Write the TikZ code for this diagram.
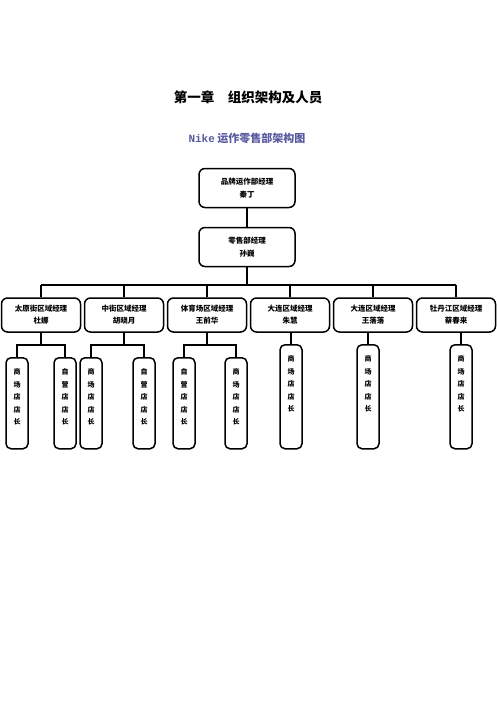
\documentclass[tikz,border=0pt]{standalone}
\usepackage{fontspec}
\setmainfont{Noto Sans CJK SC}
\newfontfamily\nikefont{Liberation Mono}
\usetikzlibrary{positioning}
\definecolor{subblue}{RGB}{88,90,160}
\tikzset{
  mgrbox/.style={draw,line width=1.5pt,rounded corners=6pt,minimum width=96pt,minimum height=39pt,align=center,font=\fontsize{7.5}{12.5}\selectfont\bfseries},
  areabox/.style={draw,line width=1.5pt,rounded corners=6pt,minimum width=79pt,minimum height=34pt,align=center,font=\fontsize{7.5}{12}\selectfont\bfseries},
  storebox/.style={draw,line width=1.5pt,rounded corners=5pt,minimum width=22pt,anchor=north},
  storetext/.style={anchor=north,align=center,font=\fontsize{7}{12.5}\selectfont\bfseries},
  link/.style={line width=1.5pt}
}

\begin{document}
\begin{tikzpicture}[x=1pt,y=-1pt]
  \useasboundingbox (0,0) rectangle (496,702);

  \node[font=\fontsize{13.5}{16}\selectfont\bfseries] (title) at (248,97) {第一章\quad 组织架构及人员};
  \node[font=\fontsize{11}{13}\selectfont\bfseries,text=subblue] (subtitle) at (247,138) {{\nikefont Nike}\ 运作零售部架构图};

  \node[mgrbox] (brand) at (247,188) {品牌运作部经理\\秦丁};
  \node[mgrbox] (retail) at (247,247) {零售部经理\\孙巍};
  \draw[link] (brand) -- (retail);

  \node[areabox] (r1) at (41,315) {太原街区域经理\\杜娜};
  \node[areabox] (r2) at (124,315) {中街区域经理\\胡晓月};
  \node[areabox] (r3) at (207,315) {体育场区域经理\\王前华};
  \node[areabox] (r4) at (290,315) {大连区域经理\\朱慧};
  \node[areabox] (r5) at (373,315) {大连区域经理\\王落落};
  \node[areabox] (r6) at (456,315) {牡丹江区域经理\\蔡春来};

  \coordinate (busL) at (41,285);
  \coordinate (busR) at (456,285);
  \draw[link] (retail.south) -- (retail.south |- busL);
  \draw[link] (busL) -- (busR);
  \draw[link] (r1.north) -- (r1.north |- busL);
  \draw[link] (r2.north) -- (r2.north |- busL);
  \draw[link] (r3.north) -- (r3.north |- busL);
  \draw[link] (r4.north) -- (r4.north |- busL);
  \draw[link] (r5.north) -- (r5.north |- busL);
  \draw[link] (r6.north) -- (r6.north |- busL);

  \node[storebox,minimum height=91pt,label={[storetext,yshift=-8pt]north:商\\场\\店\\店\\长}] (s1) at (17,357) {};
  \node[storebox,minimum height=91pt,label={[storetext,yshift=-8pt]north:自\\营\\店\\店\\长}] (s2) at (65,357) {};
  \node[storebox,minimum height=91pt,label={[storetext,yshift=-8pt]north:商\\场\\店\\店\\长}] (s3) at (91,357) {};
  \node[storebox,minimum height=91pt,label={[storetext,yshift=-8pt]north:自\\营\\店\\店\\长}] (s4) at (144,357) {};
  \node[storebox,minimum height=91pt,label={[storetext,yshift=-8pt]north:自\\营\\店\\店\\长}] (s5) at (184,357) {};
  \node[storebox,minimum height=91pt,label={[storetext,yshift=-8pt]north:商\\场\\店\\店\\长}] (s6) at (236,357) {};
  \node[storebox,minimum height=104pt,label={[storetext,yshift=-8pt]north:商\\场\\店\\店\\长}] (s7) at (291,344) {};
  \node[storebox,minimum height=104pt,label={[storetext,yshift=-8pt]north:商\\场\\店\\店\\长}] (s8) at (368,344) {};
  \node[storebox,minimum height=104pt,label={[storetext,yshift=-8pt]north:商\\场\\店\\店\\长}] (s9) at (461,344) {};

  \draw[link] (r1.south) -- ++(0,12) coordinate (j1);
  \draw[link] (s1.north) |- (j1) -| (s2.north);
  \draw[link] (r2.south) -- ++(0,12) coordinate (j2);
  \draw[link] (s3.north) |- (j2) -| (s4.north);
  \draw[link] (r3.south) -- ++(0,12) coordinate (j3);
  \draw[link] (s5.north) |- (j3) -| (s6.north);
  \draw[link] (s7.north) -- (s7.north |- r4.south);
  \draw[link] (s8.north) -- (s8.north |- r5.south);
  \draw[link] (s9.north) -- (s9.north |- r6.south);
\end{tikzpicture}
\end{document}
